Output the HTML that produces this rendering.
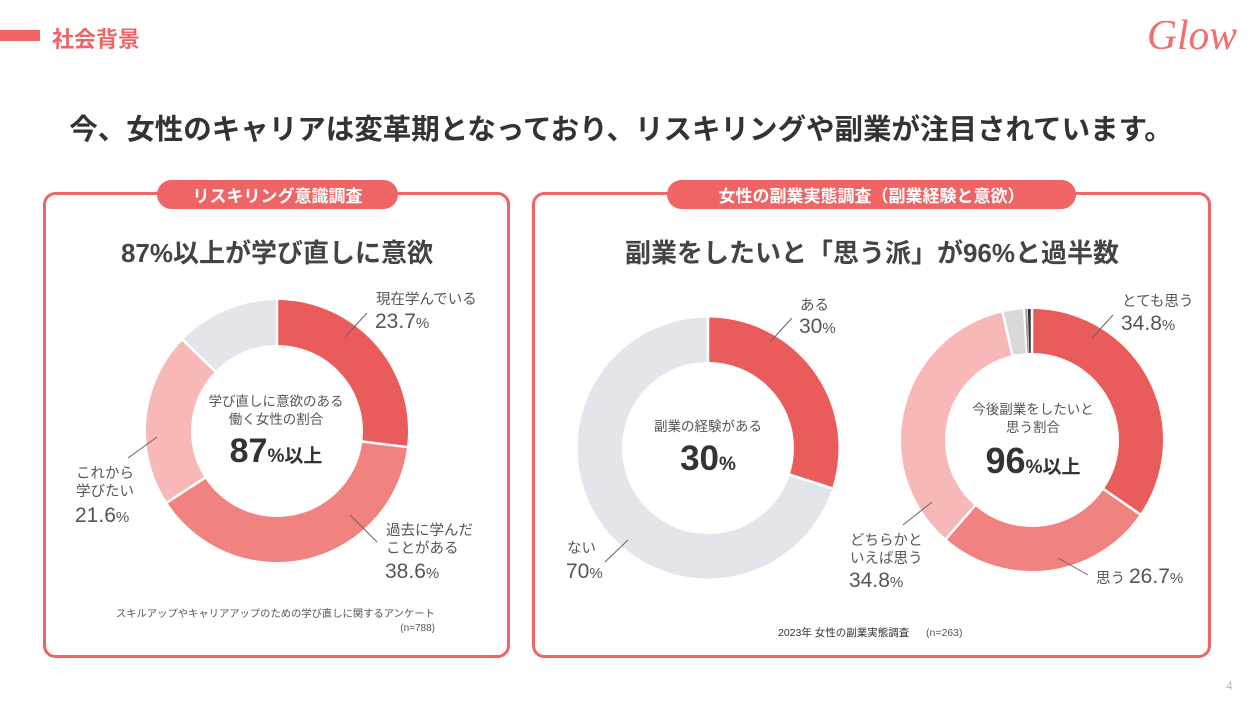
<!DOCTYPE html>
<html lang="ja">
<head>
<meta charset="utf-8">
<style>
  html,body{margin:0;padding:0;background:#fff;}
  body{width:1250px;height:703px;overflow:hidden;}
  svg{display:block;}
  text{font-family:"Liberation Sans","Noto Sans CJK JP",sans-serif;}
  .jp{font-family:"Noto Sans CJK JP","Liberation Sans",sans-serif;}
</style>
</head>
<body>
<svg width="1250" height="703" viewBox="0 0 1250 703" xmlns="http://www.w3.org/2000/svg">
  <!-- header -->
  <rect x="0" y="30" width="40" height="11" fill="#ef6464"/>
  <text x="52" y="47" class="jp" font-size="22" font-weight="bold" fill="#ef6464">社会背景</text>
  <text x="1147" y="49" font-style="italic" font-size="42" fill="#f36d6d" textLength="90" lengthAdjust="spacingAndGlyphs" style="font-family:'Liberation Serif',serif">Glow</text>

  <text x="621" y="139" class="jp" text-anchor="middle" font-size="28.5" font-weight="bold" fill="#333">今、女性のキャリアは変革期となっており、リスキリングや副業が注目されています。</text>

  <!-- panels -->
  <rect x="44.5" y="193.5" width="464" height="463" rx="11" fill="#fff" stroke="#ef6464" stroke-width="3"/>
  <rect x="533.5" y="193.5" width="676" height="463" rx="11" fill="#fff" stroke="#ef6464" stroke-width="3"/>

  <rect x="157" y="180" width="241" height="29" rx="14.5" fill="#ef6464"/>
  <text x="277.5" y="202" class="jp" text-anchor="middle" font-size="17" font-weight="bold" fill="#fff">リスキリング意識調査</text>
  <rect x="667" y="180" width="409" height="29" rx="14.5" fill="#ef6464"/>
  <text x="871.5" y="202" class="jp" text-anchor="middle" font-size="17" font-weight="bold" fill="#fff">女性の副業実態調査（副業経験と意欲）</text>

  <!-- titles -->
  <text x="277" y="262" text-anchor="middle" font-size="26" font-weight="bold" fill="#444">87%以上が学び直しに意欲</text>
  <text x="872" y="262" text-anchor="middle" font-size="26" font-weight="bold" fill="#444">副業をしたいと「思う派」が96%と過半数</text>

  <!-- LEFT DONUT cx=277 cy=431 rm=108.5 sw=45 C=681.7 -->
  <g fill="none" stroke-width="45" transform="rotate(-90 277 431)">
    <circle cx="277" cy="431" r="108.5" stroke="#ea5c5c" stroke-dasharray="183.7 1000" stroke-dashoffset="0"/>
    <circle cx="277" cy="431" r="108.5" stroke="#f08280" stroke-dasharray="265.1 1000" stroke-dashoffset="-183.7"/>
    <circle cx="277" cy="431" r="108.5" stroke="#f7b8b7" stroke-dasharray="145.8 1000" stroke-dashoffset="-448.8"/>
    <circle cx="277" cy="431" r="108.5" stroke="#e4e5eb" stroke-dasharray="87.1 1000" stroke-dashoffset="-594.6"/>
  </g>
  <g stroke="#fff" stroke-width="2.5">
    <line x1="277" y1="347" x2="277" y2="298"/>
    <line x1="361.4" y1="441.4" x2="409" y2="447.3"/>
    <line x1="205.7" y1="477.3" x2="165.5" y2="503.4"/>
    <line x1="215.9" y1="372" x2="181.4" y2="338.6"/>
  </g>
  <g stroke="#666" stroke-width="1">
    <line x1="345" y1="337" x2="367" y2="313"/>
    <line x1="128" y1="458" x2="157" y2="437"/>
    <line x1="350" y1="515" x2="377" y2="542"/>
  </g>
  <g fill="#555">
    <text x="376" y="304" font-size="14.5">現在学んでいる</text>
    <text x="375" y="328" font-size="21">23.7<tspan font-size="15">%</tspan></text>
    <text x="76" y="478" font-size="14.5">これから</text>
    <text x="76" y="496" font-size="14.5">学びたい</text>
    <text x="75" y="522" font-size="21">21.6<tspan font-size="15">%</tspan></text>
    <text x="386" y="535" font-size="14.5">過去に学んだ</text>
    <text x="386" y="553" font-size="14.5">ことがある</text>
    <text x="385" y="578" font-size="21">38.6<tspan font-size="15">%</tspan></text>
  </g>
  <text x="276" y="406" text-anchor="middle" font-size="13.5" fill="#555">学び直しに意欲のある</text>
  <text x="276" y="424" text-anchor="middle" font-size="13.5" fill="#555">働く女性の割合</text>
  <text x="276" y="462" text-anchor="middle" font-weight="bold" fill="#333"><tspan font-size="34">87</tspan><tspan font-size="19">%以上</tspan></text>

  <text x="116" y="617" font-size="10.3" fill="#555">スキルアップやキャリアアップのための学び直しに関するアンケート</text>
  <text x="435" y="631" text-anchor="end" font-size="10" fill="#555">(n=788)</text>

  <!-- RIGHT DONUT 1 cx=708 cy=448 rm=108.25 sw=44.5 C=680.2 -->
  <g fill="none" stroke-width="44.5" transform="rotate(-90 708 448)">
    <circle cx="708" cy="448" r="108.25" stroke="#ea5c5c" stroke-dasharray="204.1 1000" stroke-dashoffset="0"/>
    <circle cx="708" cy="448" r="108.25" stroke="#e4e5eb" stroke-dasharray="476.1 1000" stroke-dashoffset="-204.1"/>
  </g>
  <g stroke="#fff" stroke-width="2.5">
    <line x1="708" y1="363" x2="708" y2="315"/>
    <line x1="788.8" y1="474.3" x2="834.5" y2="489.1"/>
  </g>
  <g stroke="#666" stroke-width="1">
    <line x1="770" y1="342" x2="792" y2="318"/>
    <line x1="605" y1="562" x2="628" y2="540"/>
  </g>
  <g fill="#555">
    <text x="800" y="310" font-size="14.5">ある</text>
    <text x="799" y="333" font-size="21">30<tspan font-size="15">%</tspan></text>
    <text x="567" y="553" font-size="14.5">ない</text>
    <text x="566" y="578" font-size="21">70<tspan font-size="15">%</tspan></text>
  </g>
  <text x="708" y="431" text-anchor="middle" font-size="13.5" fill="#555">副業の経験がある</text>
  <text x="708" y="470" text-anchor="middle" font-weight="bold" fill="#333"><tspan font-size="35">30</tspan><tspan font-size="19">%</tspan></text>

  <!-- RIGHT DONUT 2 cx=1032 cy=440 rm=109 sw=44 C=684.9 -->
  <g fill="none" stroke-width="44" transform="rotate(-90 1032 440)">
    <circle cx="1032" cy="440" r="109" stroke="#ea5c5c" stroke-dasharray="236.8 1000" stroke-dashoffset="0"/>
    <circle cx="1032" cy="440" r="109" stroke="#f08280" stroke-dasharray="183.6 1000" stroke-dashoffset="-236.8"/>
    <circle cx="1032" cy="440" r="109" stroke="#f7b8b7" stroke-dasharray="239.7 1000" stroke-dashoffset="-420.4"/>
    <circle cx="1032" cy="440" r="109" stroke="#d9d9d9" stroke-dasharray="17.1 1000" stroke-dashoffset="-660.2"/>
    <circle cx="1032" cy="440" r="109" stroke="#a0a0a0" stroke-dasharray="1.9 1000" stroke-dashoffset="-678.8"/>
    <circle cx="1032" cy="440" r="109" stroke="#333" stroke-dasharray="2.9 1000" stroke-dashoffset="-681.1"/>
  </g>
  <g stroke="#fff" stroke-width="2.5">
    <line x1="1032" y1="355" x2="1032" y2="307"/>
    <line x1="1102.9" y1="488.7" x2="1141.6" y2="515.3"/>
    <line x1="975.6" y1="504.9" x2="944.7" y2="540.4"/>
    <line x1="1012.6" y1="356.2" x2="1002.1" y2="310.4"/>
  </g>
  <g stroke="#fff" stroke-width="1.5">
    <line x1="1026.5" y1="354.2" x2="1023.5" y2="307.3"/>
  </g>
  <g stroke="#666" stroke-width="1">
    <line x1="1092" y1="338" x2="1113" y2="315"/>
    <line x1="903" y1="525" x2="932" y2="502"/>
    <line x1="1058" y1="558" x2="1088" y2="575"/>
  </g>
  <g fill="#555">
    <text x="1122" y="306" font-size="14.5">とても思う</text>
    <text x="1121" y="330" font-size="21">34.8<tspan font-size="15">%</tspan></text>
    <text x="850" y="545" font-size="14.5">どちらかと</text>
    <text x="850" y="563" font-size="14.5">いえば思う</text>
    <text x="849" y="587" font-size="21">34.8<tspan font-size="15">%</tspan></text>
    <text x="1096" y="583" font-size="14.5">思う</text>
    <text x="1129" y="583" font-size="21">26.7<tspan font-size="15">%</tspan></text>
  </g>
  <text x="1033" y="414" text-anchor="middle" font-size="13.5" fill="#555">今後副業をしたいと</text>
  <text x="1033" y="432" text-anchor="middle" font-size="13.5" fill="#555">思う割合</text>
  <text x="1033" y="473" text-anchor="middle" font-weight="bold" fill="#333"><tspan font-size="36">96</tspan><tspan font-size="19">%以上</tspan></text>

  <text x="778" y="636" font-size="10.5" fill="#333">2023年 女性の副業実態調査</text>
  <text x="926" y="636" font-size="10.5" fill="#555">(n=263)</text>

  <text x="1226" y="690" font-size="12" fill="#bbb">4</text>
</svg>
</body>
</html>
